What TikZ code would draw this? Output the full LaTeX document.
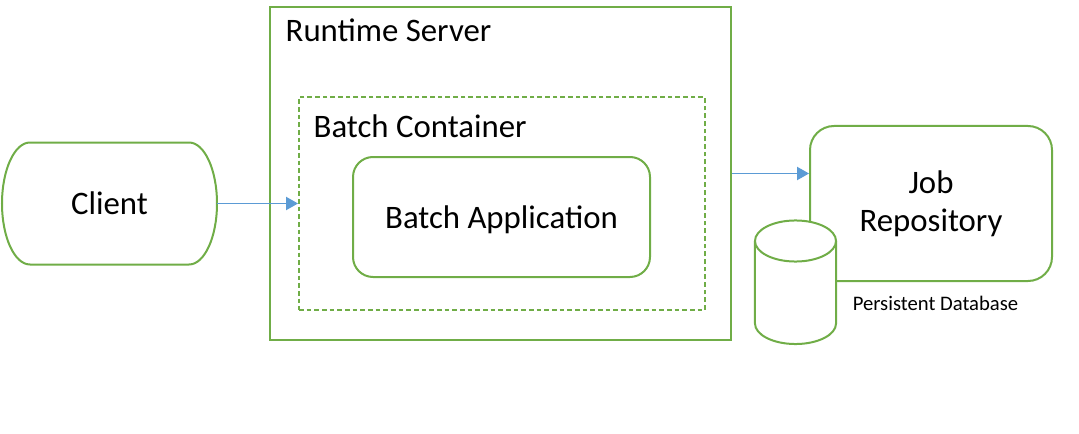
\documentclass[tikz,border=0pt]{standalone}
\usepackage{fontspec}
\setmainfont{Carlito}
\usepackage{xcolor}
\usetikzlibrary{arrows.meta}
\definecolor{boxgreen}{HTML}{70AD47}
\definecolor{arrowblue}{HTML}{5B9BD5}

\begin{document}
\begin{tikzpicture}[x=0.75pt,y=0.75pt,font=\fontsize{24.6}{29.5}\selectfont,
  box/.style={draw=boxgreen,line width=1.5pt,inner sep=0pt},
  flow/.style={arrowblue,line width=0.8pt,-{Triangle[length=9pt,width=10pt]}}]
    \useasboundingbox (0,0) rectangle (1079,433);
    \node[outer sep=0pt,minimum width=161.25pt,minimum height=91.5pt] (client) at (109.5,229.5) {Client};
    \draw[box] ([xshift=21pt]client.north west) -- ([xshift=-21pt]client.north east)
        arc (90:-90:21pt and 45.75pt) -- ([xshift=21pt]client.south west)
        arc (270:90:21pt and 45.75pt) -- cycle;
    \node[box,minimum width=345.75pt,minimum height=249.75pt] (server) at (500.5,259.5) {};
    \node[anchor=base west] (servertitle) at (281,391) {Runtime Server};
    \node[box,dash pattern=on 3.5pt off 2.25pt,minimum width=304.5pt,minimum height=159.75pt] (container) at (502,229.5) {};
    \node[anchor=base west] (containertitle) at (309,296) {Batch Container};
    \node[box,rounded corners=15pt,text depth=0pt,minimum width=222.75pt,minimum height=90pt] (app) at (501.5,216) {Batch Application};
    \node[box,rounded corners=18pt,minimum width=181.5pt,minimum height=116.25pt,align=center] (repo) at (931,229.5) {Job\\[-1pt]Repository};
    \coordinate (dbtop) at (795.5,192);
    \coordinate (dbbottom) at (795.5,109.5);
    \draw[box,fill=white] ([xshift=-30.4pt]dbtop) -- ([xshift=-30.4pt]dbbottom)
        arc (180:360:30.4pt and 15.4pt) -- ([xshift=30.4pt]dbtop)
        arc (0:180:30.4pt and 15.4pt) -- cycle;
    \draw[box] ([xshift=-30.4pt]dbtop) arc (180:360:30.4pt and 15.4pt);
    \node[font=\fontsize{15.5}{18}\selectfont] (dblabel) at (935.5,130) {Persistent Database};
    \draw[flow] (client.east) -- (container.west);
    \draw[flow] (server.east) -- (server.east -| repo.west);
\end{tikzpicture}
\end{document}
